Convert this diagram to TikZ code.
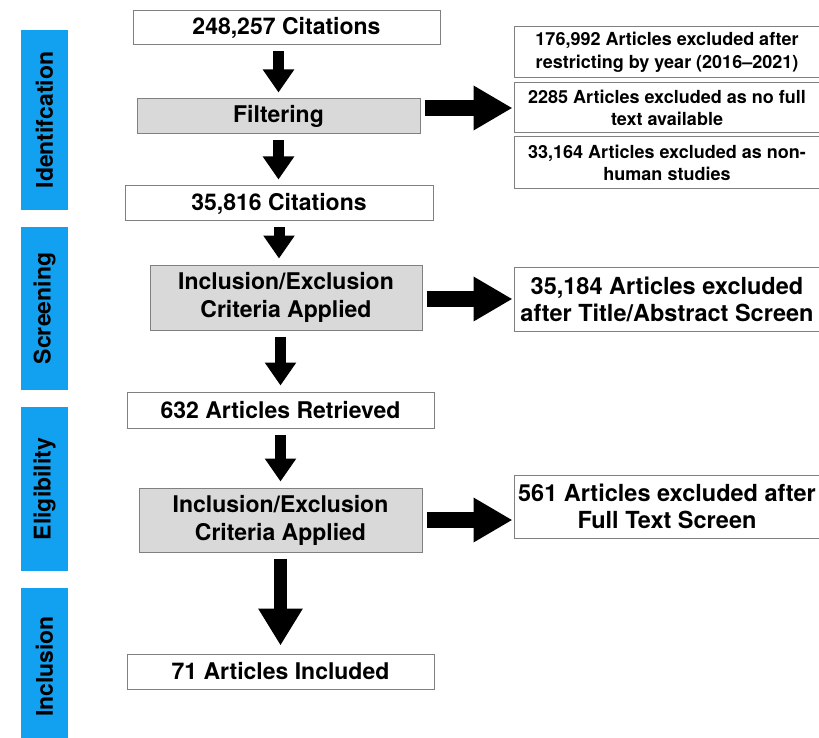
\documentclass[tikz,border=0pt]{standalone}
\usepackage{fontspec}
\setmainfont{TeX Gyre Heros}
\usetikzlibrary{positioning, arrows.meta}
\definecolor{phaseblue}{RGB}{18,160,240}
\definecolor{stagegray}{RGB}{217,217,217}

\begin{document}
\begin{tikzpicture}[
         x=1pt, y=1pt,
         box/.style={draw=gray, line width=1pt, align=center, inner sep=0pt, font=\fontsize{23}{28}\selectfont\bfseries},
         count/.style={box, minimum width=307pt, minimum height=35pt},
         stage/.style={box, fill=stagegray, minimum width=283pt},
         excl/.style={box, minimum width=306pt, font=\fontsize{23.5}{27}\selectfont\bfseries},
         note/.style={excl, font=\fontsize{18}{22.5}\selectfont\bfseries},
         phase/.style={fill=phaseblue, rotate=90, minimum height=47pt, inner sep=0pt, font=\fontsize{23}{28}\selectfont\bfseries},
         down/.style={line width=11pt, -{Triangle[length=23pt, width=30pt]}, shorten <=6pt, shorten >=6pt},
         side/.style={line width=16pt, -{Triangle[length=39pt, width=42pt]}, shorten <=4pt, shorten >=1pt}
      ]
         \clip (0,0) rectangle (819,-738);

         % Phase bars on the left
         \node[phase, minimum width=180pt] (ident) at (44.5,-120) {Identifcation};
         \node[phase, minimum width=163pt] (scr) at (44.5,-308.5) {Screening};
         \node[phase, minimum width=164pt] (elg) at (44.5,-489) {Eligibility};
         \node[phase, minimum width=157pt] (inc) at (44.5,-666.5) {Inclusion};

         % Main column
         \node[count, minimum height=34pt] (cit1) at (286.5,-28) {248,257 Citations};
         \node[stage, minimum height=35pt] (filter) [below=53pt of cit1, xshift=-8pt] {Filtering};
         \node[count, minimum width=308pt] (cit2) [below=51pt of filter, xshift=0.5pt] {35,816 Citations};
         \node[stage, minimum width=272pt, minimum height=65pt] (screen) [below=43pt of cit2, xshift=7pt] {Inclusion/Exclusion\\Criteria Applied};
         \node[count, minimum height=36pt] (retr) [below=61pt of screen, xshift=-5.5pt] {632 Articles Retrieved};
         \node[stage, minimum height=64pt] (elig) [below=59pt of retr] {Inclusion/Exclusion\\Criteria Applied};
         \node[count] (incl) [below=101pt of elig] {71 Articles Included};

         % Excluded records
         \node[note, minimum height=50pt] (ex2) [right=93pt of filter, yshift=8.5pt] {2285 Articles excluded as no full\\text available};
         \node[note, minimum height=51pt] (ex1) [above=4pt of ex2] {176,992 Articles excluded after\\restricting by year (2016--2021)};
         \node[note, minimum height=52pt] (ex3) [below=3pt of ex2] {33,164 Articles excluded as non-\\human studies};
         \node[excl, minimum height=64pt] (ex4) [right=91pt of screen, yshift=-1.5pt] {35,184 Articles excluded\\after Title/Abstract Screen};
         \node[excl, minimum height=63pt] (ex5) [right=91pt of elig, yshift=13.5pt] {561 Articles excluded after\\Full Text Screen};

         % Arrows down the main column
         \draw[down] (cit1.south -| filter.north) -- (filter.north);
         \draw[down] (filter.south) -- (filter.south |- cit2.north);
         \draw[down] (cit2.south) -- (cit2.south |- screen.north);
         \draw[down] (screen.south -| retr.north) -- (retr.north);
         \draw[down] (retr.south) -- (elig.north);
         \draw[down, line width=13pt, -{Triangle[length=37pt, width=42pt]}, shorten >=8pt] (elig.south) -- (incl.north);

         % Arrows to the exclusions
         \draw[side] (filter.east |- ex2.west) -- (ex2.west);
         \draw[side] (screen.east |- ex4.west) -- (ex4.west);
         \draw[side] (elig.east) -- (elig.east -| ex5.west);
      \end{tikzpicture}
\end{document}
